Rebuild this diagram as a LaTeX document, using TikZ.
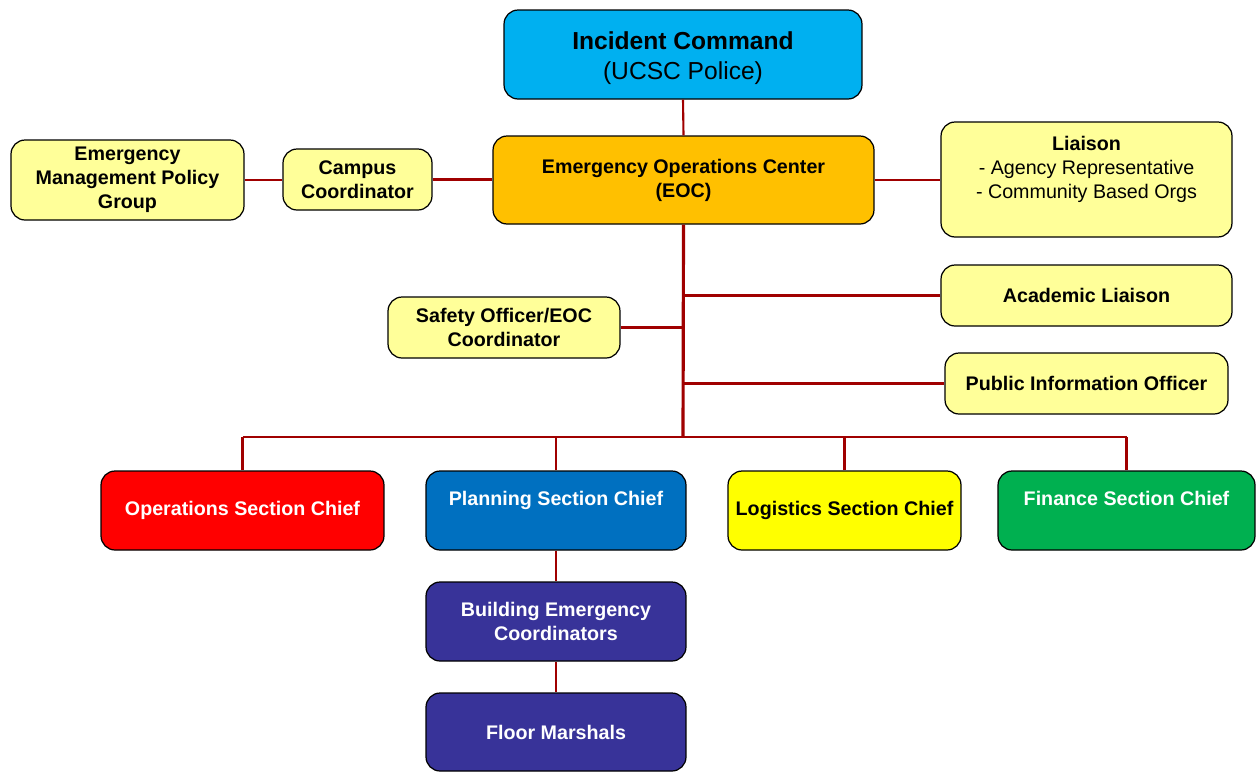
\documentclass[tikz,border=0pt]{standalone}
\usepackage{fontspec}
\setmainfont{Liberation Sans}
\usepackage{tikz}
\usetikzlibrary{calc}

\definecolor{linkred}{HTML}{A00000}
\definecolor{cmdblue}{HTML}{00B0F0}
\definecolor{eocorange}{HTML}{FFC000}
\definecolor{paleyellow}{HTML}{FFFF99}
\definecolor{opsred}{HTML}{FF0000}
\definecolor{planblue}{HTML}{0070C0}
\definecolor{logyellow}{HTML}{FFFF00}
\definecolor{fingreen}{HTML}{00B050}
\definecolor{staffviolet}{HTML}{383399}

\tikzset{
  unit/.style={draw=black,line width=0.7pt,rounded corners=8pt,align=center,
    inner sep=2pt,font=\bfseries\fontsize{11.2}{13.6}\selectfont},
  staff/.style={unit,fill=paleyellow},
  chief/.style={unit,minimum height=1.58cm},
  link/.style={draw=linkred,line width=1.2pt},
  trunk/.style={draw=linkred,line width=1.8pt}
}

\begin{document}
\begin{tikzpicture}[x=0.02cm,y=-0.02cm]
    \useasboundingbox (0,0) rectangle (1256,772);
    % top of the chart
    \node[unit,fill=cmdblue,minimum width=7.16cm,minimum height=1.78cm,
          font=\fontsize{14}{17}\selectfont] at (683,54.5) (ic)
          {\rule{0pt}{14pt}\textbf{Incident Command}\\(UCSC Police)};
    \node[unit,fill=eocorange,minimum width=7.62cm,minimum height=1.76cm] at (683.5,180) (eoc)
          {Emergency Operations Center\\(EOC)};
    \node[staff,minimum width=4.66cm,minimum height=1.6cm] at (127.5,180) (empg)
          {Emergency\\Management Policy\\Group};
    \node[staff,minimum width=2.98cm,minimum height=1.22cm] at (357.5,179.5) (campus)
          {Campus\\Coordinator};
    \node[staff,minimum width=5.82cm,minimum height=2.3cm] at (1086.5,179.5) (liaison)
          {Liaison\\\mdseries - Agency Representative\\\mdseries - Community Based Orgs\\~};
    % staff on the trunk
    \node[staff,minimum width=5.82cm,minimum height=1.22cm] at (1086.5,295.5) (acad)
          {Academic Liaison};
    \node[staff,minimum width=4.64cm,minimum height=1.22cm] at (504,327.5) (safety)
          {Safety Officer/EOC\\Coordinator};
    \node[staff,minimum width=5.66cm,minimum height=1.22cm] at (1086.5,383.5) (pio)
          {Public Information Officer};
    % section chiefs
    \node[chief,fill=opsred,text=white,minimum width=5.66cm] at (242.5,510.5) (ops)
          {Operations Section Chief};
    \node[chief,fill=planblue,text=white,minimum width=5.2cm] at (556,510.5) (plan)
          {Planning Section Chief\\~};
    \node[chief,fill=logyellow,minimum width=4.66cm] at (844.5,510.5) (logi)
          {Logistics Section Chief};
    \node[chief,fill=fingreen,text=white,minimum width=5.14cm] at (1126.5,510.5) (fin)
          {Finance Section Chief\\~};
    \node[chief,fill=staffviolet,text=white,minimum width=5.2cm] at (556,621.5) (bec)
          {Building Emergency\\Coordinators};
    \node[chief,fill=staffviolet,text=white,minimum width=5.2cm,minimum height=1.56cm] at (556,732) (fm)
          {Floor Marshals};
    \coordinate (bus) at (683,437);
    % connectors
    \draw[link] (ic.south) -- (eoc.north);
    \draw[link] (empg.east) -- (empg.east -| campus.west);
    \draw[link] (campus.east) -- (campus.east -| eoc.west);
    \draw[link] (eoc.east) -- (eoc.east -| liaison.west);
    \draw[trunk] (eoc.south) -- (bus);
    \draw[link] (acad.west) -- (acad.west -| bus);
    \draw[link] (safety.east) -- (safety.east -| bus);
    \draw[link] (pio.west) -- (pio.west -| bus);
    \draw[link] (ops.north |- bus) -- (fin.north |- bus);
    \draw[link] (ops.north) -- (ops.north |- bus);
    \draw[link] (plan.north) -- (plan.north |- bus);
    \draw[link] (logi.north) -- (logi.north |- bus);
    \draw[link] (fin.north) -- (fin.north |- bus);
    \draw[link] (plan.south) -- (bec.north);
    \draw[link] (bec.south) -- (fm.north);
\end{tikzpicture}
\end{document}
